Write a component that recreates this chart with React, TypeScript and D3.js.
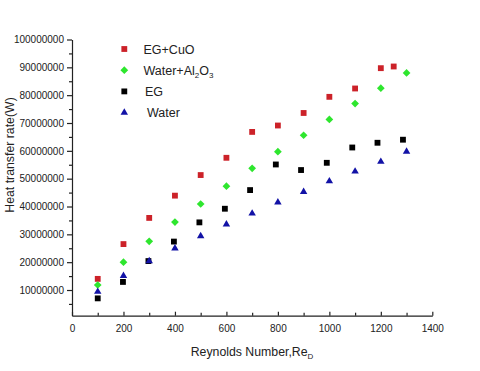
import React, { useRef, useEffect } from "react";
import * as d3 from "d3";

// values in W, Reynolds numbers
const cuoRe = [100, 200, 300, 400, 500, 600, 700, 800, 900, 1000, 1100, 1200, 1250];
const cuoQ = [14.0, 26.5, 35.9, 43.9, 51.3, 57.5, 66.8, 69.1, 73.6, 79.4, 82.4, 89.7, 90.3];

const alRe = [100, 200, 300, 400, 500, 600, 700, 800, 900, 1000, 1100, 1200, 1300];
const alQ = [11.8, 20.0, 27.5, 34.4, 40.9, 47.3, 53.7, 59.7, 65.6, 71.3, 77.0, 82.5, 88.0];

const egRe = [100, 198, 297, 396, 495, 594, 692, 792, 890, 990, 1089, 1187, 1286];
const egQ = [7.0, 12.9, 20.4, 27.4, 34.3, 39.2, 45.9, 55.1, 53.1, 55.7, 61.2, 62.9, 64.0];

const waterRe = [100, 200, 300, 400, 500, 600, 700, 800, 900, 1000, 1100, 1200, 1300];
const waterQ = [9.4, 15.1, 20.4, 25.0, 29.4, 33.6, 37.5, 41.5, 45.3, 49.1, 52.6, 56.1, 59.7];

const xTicks = [0, 200, 400, 600, 800, 1000, 1200, 1400];
const xMinor = [100, 300, 500, 700, 900, 1100, 1300];
const yTicks = [10, 20, 30, 40, 50, 60, 70, 80, 90, 100].map((d) => d * 1e6);
const yMinor = [5, 15, 25, 35, 45, 55, 65, 75, 85, 95].map((d) => d * 1e6);

const App = () => {
  const svgRef = useRef<SVGSVGElement>(null);

  useEffect(() => {
    const svg = d3.select(svgRef.current);
    svg.selectAll("*").remove();

    const font = "'Liberation Sans', Arial, sans-serif";
    const ink = "#222";

    const x = d3.scaleLinear().domain([0, 1400]).range([72, 432.3]);
    const y = d3.scaleLinear().domain([770000, 100000000]).range([315.7, 39.5]);

    const series = [
      { name: "EG+CuO", re: cuoRe, q: cuoQ, color: "#cc2229", type: d3.symbolSquare, size: 34, rot: 0 },
      { name: "Water+Al2O3", re: alRe, q: alQ, color: "#2ee62e", type: d3.symbolSquare, size: 30, rot: 45 },
      { name: "EG", re: egRe, q: egQ, color: "#000000", type: d3.symbolSquare, size: 34, rot: 0 },
      { name: "Water", re: waterRe, q: waterQ, color: "#1212a6", type: d3.symbolTriangle, size: 24, rot: 0 },
    ];

    // y axis
    const yAxis = svg
      .append("g")
      .attr("transform", "translate(72,0)")
      .call(
        d3.axisLeft(y).tickValues(yTicks).tickFormat(d3.format("d")).tickSize(5).tickPadding(3).tickSizeOuter(0)
      );
    svg
      .append("g")
      .attr("transform", "translate(72,0)")
      .call(d3.axisLeft(y).tickValues(yMinor).tickFormat(() => "").tickSize(3))
      .select(".domain")
      .remove();

    // x axis
    const xAxis = svg
      .append("g")
      .attr("transform", "translate(0,315.7)")
      .call(
        d3.axisBottom(x).tickValues(xTicks).tickFormat(d3.format("d")).tickSize(-4).tickPadding(9).tickSizeOuter(0)
      );
    svg
      .append("g")
      .attr("transform", "translate(0,315.7)")
      .call(d3.axisBottom(x).tickValues(xMinor).tickFormat(() => "").tickSize(-3))
      .select(".domain")
      .remove();

    svg.selectAll(".tick line, .domain").attr("stroke", ink).attr("stroke-width", 1.2);
    [yAxis, xAxis].forEach((g) =>
      g.selectAll("text").attr("font-family", font).attr("font-size", 10).attr("fill", ink)
    );

    // points
    series.forEach((s) => {
      const sym = d3.symbol().type(s.type).size(s.size);
      svg
        .append("g")
        .selectAll("path")
        .data(s.re.map((r, i) => [r, s.q[i] * 1e6]))
        .enter()
        .append("path")
        .attr("d", sym)
        .attr("transform", (d) => `translate(${x(d[0])},${y(d[1])}) rotate(${s.rot})`)
        .attr("fill", s.color);
    });

    // legend
    const legend = svg.append("g");
    series.forEach((s, i) => {
      const ly = 49 + i * 21.2;
      legend
        .append("path")
        .attr("d", d3.symbol().type(s.type).size(s.size)())
        .attr("transform", `translate(124.3,${ly}) rotate(${s.rot})`)
        .attr("fill", s.color);
      const t = legend
        .append("text")
        .attr("x", i < 2 ? 143.5 : i === 2 ? 145 : 147)
        .attr("y", ly + 4.5)
        .attr("font-family", font)
        .attr("font-size", 12.5)
        .attr("fill", ink);
      if (s.name === "Water+Al2O3") {
        t.append("tspan").text("Water+Al");
        t.append("tspan").attr("font-size", 8).attr("dy", 3.5).text("2");
        t.append("tspan").attr("dy", -3.5).text("O");
        t.append("tspan").attr("font-size", 8).attr("dy", 3.5).text("3");
      } else {
        t.text(s.name);
      }
    });

    // axis titles
    const xt = svg
      .append("text")
      .attr("x", 252)
      .attr("y", 355.7)
      .attr("text-anchor", "middle")
      .attr("font-family", font)
      .attr("font-size", 12.3)
      .attr("fill", ink);
    xt.append("tspan").text("Reynolds Number,Re");
    xt.append("tspan").attr("font-size", 8).attr("dy", 3.6).text("D");

    svg
      .append("text")
      .attr("transform", "translate(14,155) rotate(-90)")
      .attr("text-anchor", "middle")
      .attr("font-family", font)
      .attr("font-size", 12.3)
      .attr("fill", ink)
      .text("Heat transfer rate(W)");
  }, []);

  return (
    <svg
      ref={svgRef}
      width={480}
      height={371}
      style={{ position: "absolute", left: 0, top: 0, background: "#fff" }}
    ></svg>
  );
};

export default App;
